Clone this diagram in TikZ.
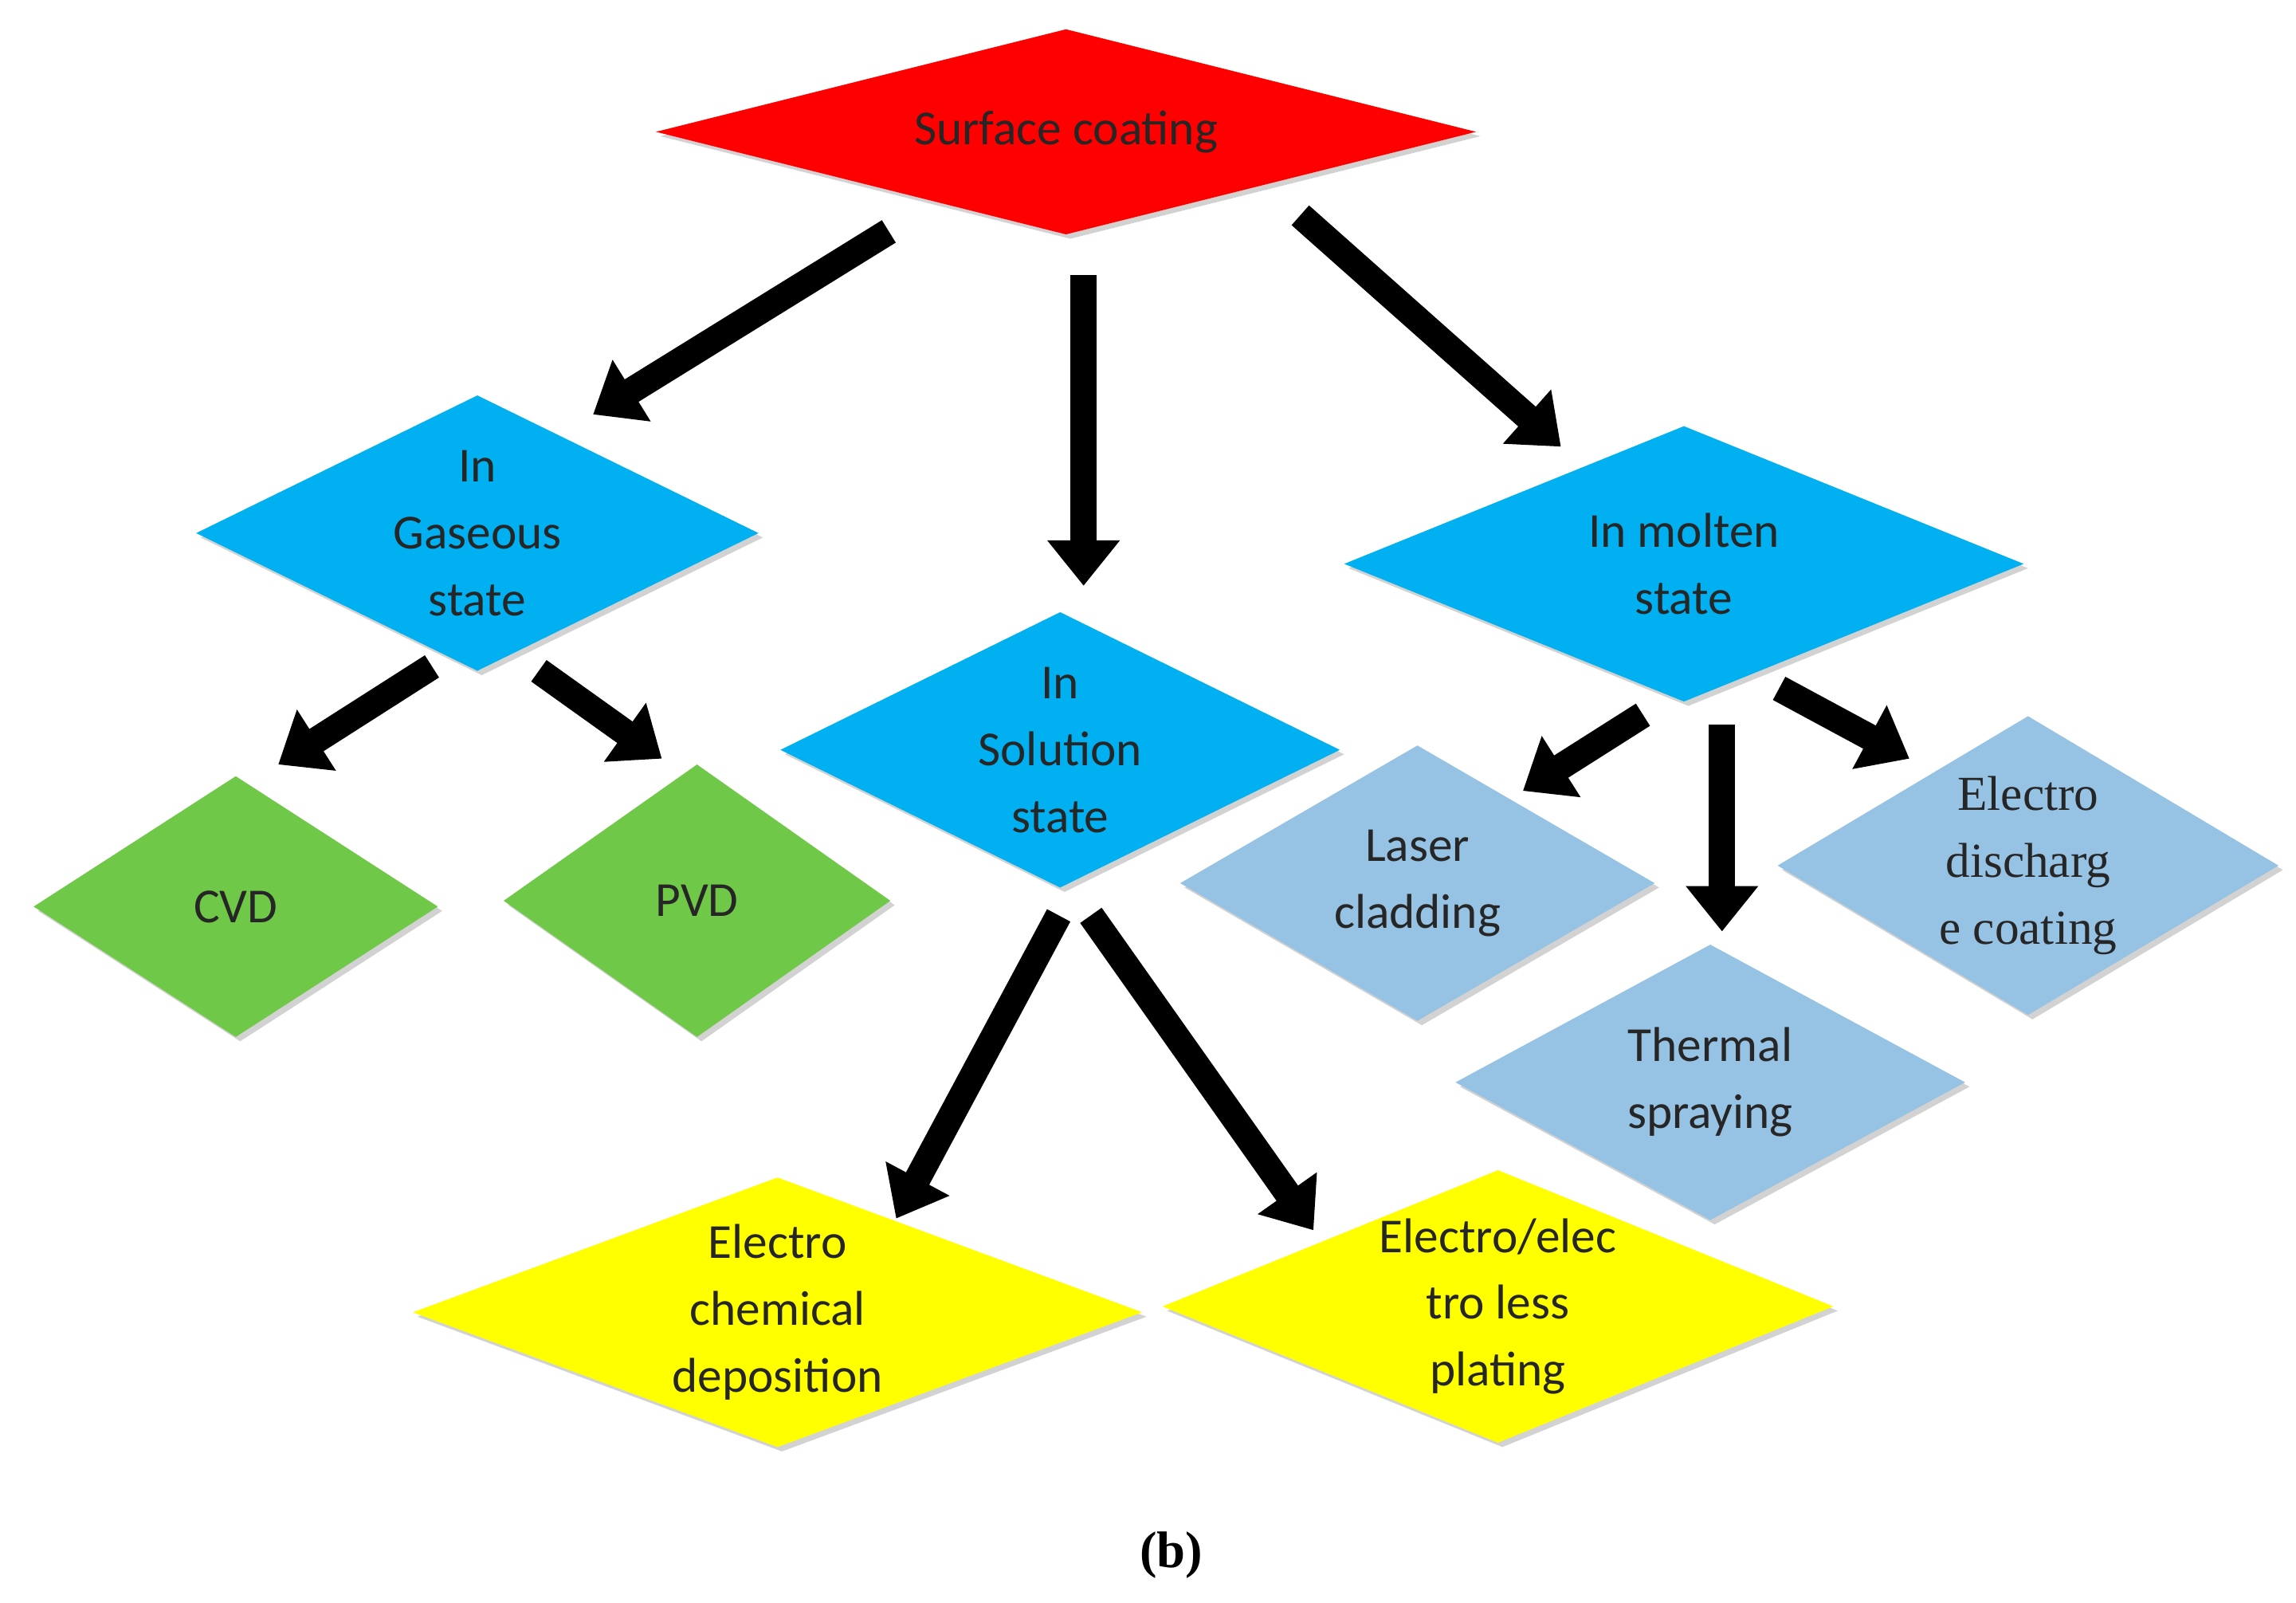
\documentclass[tikz,border=0pt]{standalone}
\usepackage{fontspec}
\setmainfont{Carlito}
\newfontfamily\serifb{Liberation Serif}
\usetikzlibrary{arrows.meta,shadows}
\definecolor{cred}{RGB}{255,0,0}
\definecolor{cblue}{RGB}{0,176,240}
\definecolor{cgreen}{RGB}{112,200,72}
\definecolor{clblue}{RGB}{150,194,228}
\definecolor{cyel}{RGB}{255,255,0}
\tikzset{
  lbl/.style={align=center,font=\fontsize{19}{26}\selectfont,text=black!85},
  arr/.style={line width=0.36cm,-{Triangle[length=0.62cm,width=0.95cm]},black},
  dshadow/.style={drop shadow={shadow xshift=0.06cm,shadow yshift=-0.06cm,opacity=0.35}}
}
% \dia{name}{cx}{cy}{halfw}{halfh}{color}{text}
\newcommand{\dia}[7]{%
  \fill[#6,dshadow] (#2-#4,#3) -- (#2,#3+#5) -- (#2+#4,#3) -- (#2,#3-#5) -- cycle;
  \node[lbl] (#1) at (#2,#3) {#7};}
\begin{document}
\begin{tikzpicture}[x=0.02cm,y=-0.02cm]
\useasboundingbox (0,0) rectangle (1568,1094);
\fill[white] (0,0) rectangle (1568,1094);
\dia{sc}{728}{90}{280}{70}{cred}{Surface coating}
\dia{gas}{326}{364}{192}{94}{cblue}{In\\Gaseous\\state}
\dia{sol}{724}{512}{191}{94}{cblue}{In\\Solution\\state}
\dia{mol}{1150}{385}{232}{94}{cblue}{In molten\\state}
\dia{cvd}{161}{619}{138}{89}{cgreen}{CVD}
\dia{pvd}{476}{615}{132}{93}{cgreen}{PVD}
\dia{las}{968}{603}{162}{94}{clblue}{Laser\\cladding}
\dia{edc}{1385}{591}{171}{102}{clblue}{\serifb Electro\\\serifb discharg\\\serifb e coating}
\dia{thr}{1168}{739}{174}{94}{clblue}{Thermal\\spraying}
\dia{ecd}{531}{896}{249}{92}{cyel}{Electro\\chemical\\deposition}
\dia{epl}{1023}{892}{229}{93}{cyel}{Electro/elec\\tro less\\plating}
\node[font=\serifb\fontsize{20}{24}\selectfont\bfseries] (b) at (800,1062) {(b)};
\coordinate (a1s) at (607,158); \coordinate (a1e) at (405,283);
\coordinate (a2s) at (740,188); \coordinate (a2e) at (740,400);
\coordinate (a3s) at (888,147); \coordinate (a3e) at (1066,305);
\coordinate (a4s) at (295,455); \coordinate (a4e) at (190,522);
\coordinate (a5s) at (368,458); \coordinate (a5e) at (452,518);
\coordinate (a6s) at (1122,488); \coordinate (a6e) at (1040,540);
\coordinate (a7s) at (1176,495); \coordinate (a7e) at (1176,636);
\coordinate (a8s) at (1215,470); \coordinate (a8e) at (1304,518);
\coordinate (a9s) at (723,625); \coordinate (a9e) at (612,832);
\coordinate (a10s) at (745,625); \coordinate (a10e) at (897,840);
\foreach \i in {1,...,10} \draw[arr] (a\i s) -- (a\i e);
\end{tikzpicture}
\end{document}
